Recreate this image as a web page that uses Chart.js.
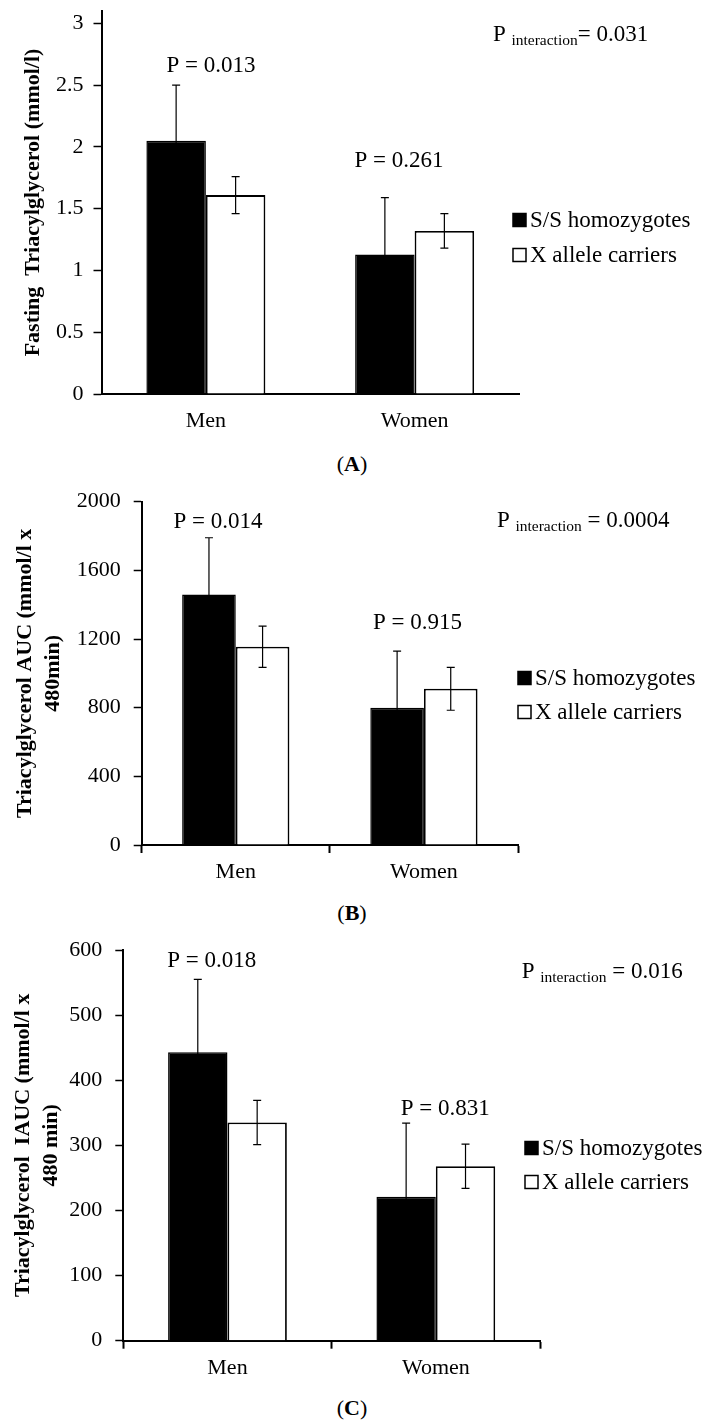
<!DOCTYPE html>
<html>
<head>
<meta charset="utf-8">
<script src="https://cdn.jsdelivr.net/npm/chart.js@4.4.0/dist/chart.umd.min.js"></script>
<style>
body { margin: 0; background: #fff; }
#page { position: relative; width: 704px; height: 1425px; background: #fff; overflow: hidden; }
canvas { position: absolute; left: 0; }
.tag { position: absolute; left: 0; width: 704px; text-align: center; font: 22px "Liberation Serif", "Times New Roman", serif; color: #000; }
</style>
</head>
<body>
<div id="page">
  <canvas id="chartA" width="704" height="440" style="top:0px"></canvas>
  <div class="tag" style="top:451px">(<b>A</b>)</div>
  <canvas id="chartB" width="704" height="440" style="top:460px"></canvas>
  <div class="tag" style="top:900px">(<b>B</b>)</div>
  <canvas id="chartC" width="704" height="460" style="top:930px"></canvas>
  <div class="tag" style="top:1395px">(<b>C</b>)</div>
</div>
<script>
const categories = ['Men', 'Women'];
const seriesNames = ['S/S homozygotes', 'X allele carriers'];

// (A) fasting triacylglycerol, mmol/l
const fastingSS = [2.05, 1.13];
const fastingSSErr = [0.45, 0.46];
const fastingX = [1.61, 1.32];
const fastingXErr = [0.15, 0.14];
const fastingTicks = [0, 0.5, 1, 1.5, 2, 2.5, 3];
const fastingP = ['P = 0.013', 'P = 0.261'];
const fastingInter = ['P', 'interaction', '= 0.031'];

// (B) AUC
const aucSS = [1460, 800];
const aucSSErr = [330, 330];
const aucX = [1155, 910];
const aucXErr = [120, 125];
const aucTicks = [0, 400, 800, 1200, 1600, 2000];
const aucP = ['P = 0.014', 'P = 0.915'];
const aucInter = ['P', 'interaction', ' = 0.0004'];

// (C) IAUC
const iaucSS = [443, 221];
const iaucSSErr = [112, 113];
const iaucX = [335, 268];
const iaucXErr = [34, 34];
const iaucTicks = [0, 100, 200, 300, 400, 500, 600];
const iaucP = ['P = 0.018', 'P = 0.831'];
const iaucInter = ['P', 'interaction', ' = 0.016'];

const SERIF = '"Liberation Serif", "Times New Roman", serif';

const extras = {
  id: 'extras',
  afterDatasetsDraw(chart, args, opts) {
    const ctx = chart.ctx;
    const xs = chart.scales.x, ys = chart.scales.y;
    ctx.save();

    // error bars
    ctx.strokeStyle = '#000';
    ctx.lineWidth = 1.2;
    opts.errors.forEach((errs, di) => {
      const vals = chart.data.datasets[di].data;
      chart.getDatasetMeta(di).data.forEach((bar, j) => {
        const top = ys.getPixelForValue(vals[j] + errs[j]);
        const bot = ys.getPixelForValue(vals[j] - errs[j]);
        ctx.beginPath();
        ctx.moveTo(bar.x, top); ctx.lineTo(bar.x, bot);
        ctx.moveTo(bar.x - 4, top); ctx.lineTo(bar.x + 4, top);
        ctx.moveTo(bar.x - 4, bot); ctx.lineTo(bar.x + 4, bot);
        ctx.stroke();
      });
    });

    // P values above each group
    ctx.fillStyle = '#000';
    ctx.font = '23px ' + SERIF;
    ctx.textAlign = 'center';
    ctx.textBaseline = 'alphabetic';
    opts.pLabels.forEach((txt, i) => {
      const at = opts.pAt[i];
      ctx.fillText(txt, xs.getPixelForValue(at[0]), ys.getPixelForValue(at[1]));
    });

    // P interaction with subscript
    ctx.textAlign = 'left';
    let px = xs.getPixelForValue(opts.interAt[0]);
    const py = ys.getPixelForValue(opts.interAt[1]);
    ctx.fillText(opts.inter[0] + ' ', px, py);
    px += ctx.measureText(opts.inter[0] + ' ').width;
    ctx.font = '15.5px ' + SERIF;
    ctx.fillText(opts.inter[1], px, py + 4);
    px += ctx.measureText(opts.inter[1]).width;
    ctx.font = '23px ' + SERIF;
    ctx.fillText(opts.inter[2], px, py);

    // legend
    const lg = opts.legend;
    ctx.textBaseline = 'middle';
    chart.data.datasets.forEach((ds, i) => {
      const cy = lg.y + i * lg.gap;
      ctx.fillStyle = ds.backgroundColor;
      ctx.fillRect(lg.x, cy - 6.5, 13, 13);
      ctx.strokeStyle = '#000';
      ctx.lineWidth = 1.5;
      ctx.strokeRect(lg.x, cy - 6.5, 13, 13);
      ctx.fillStyle = '#000';
      ctx.fillText(ds.label, lg.x + 17, cy + 1);
    });
    ctx.restore();
  }
};

function makePanel(id, cfg) {
  const el = document.getElementById(id);
  return new Chart(el, {
    type: 'bar',
    data: {
      labels: categories,
      datasets: [
        { label: seriesNames[0], data: cfg.ss, backgroundColor: '#000', borderColor: '#000', borderWidth: 1.5 },
        { label: seriesNames[1], data: cfg.xc, backgroundColor: '#fff', borderColor: '#000', borderWidth: 1.8 }
      ]
    },
    options: {
      responsive: false,
      animation: false,
      datasets: { bar: { categoryPercentage: 0.57, barPercentage: 1.0 } },
      layout: { padding: { left: 0, top: cfg.box.top, right: 704 - cfg.box.right, bottom: 0 } },
      plugins: {
        legend: { display: false },
        tooltip: { enabled: false },
        extras: {
          errors: [cfg.ssErr, cfg.xcErr],
          pLabels: cfg.pLabels, pAt: cfg.pAt,
          inter: cfg.inter, interAt: cfg.interAt,
          legend: cfg.legend
        }
      },
      scales: {
        x: {
          grid: { display: true, drawOnChartArea: false, offset: true, tickLength: 8, tickWidth: 2,
                  tickColor: cfg.xTicks ? '#000' : 'rgba(0,0,0,0)' },
          border: { color: '#000', width: 2 },
          ticks: { color: '#000', padding: 6, font: { family: SERIF, size: 22 } },
          afterFit: (s) => { s.height = el.height - cfg.box.bottom; s.paddingLeft = 0; s.paddingRight = 0; }
        },
        y: {
          min: 0, max: cfg.max,
          grid: { drawOnChartArea: false, tickLength: 8, tickWidth: 1.5, tickColor: '#000' },
          border: { color: '#000', width: 2 },
          ticks: { color: '#000', padding: cfg.tickPad, font: { family: SERIF, size: 22 }, callback: (v) => String(v) },
          afterBuildTicks: (s) => { s.ticks = cfg.ticks.map(v => ({ value: v })); },
          afterFit: (s) => { s.width = cfg.box.left; s.paddingTop = 0; s.paddingBottom = 0; },
          title: { display: true, text: cfg.title, color: '#000',
                   font: { family: SERIF, size: 22, weight: 'bold', lineHeight: 1.27 },
                   padding: { top: cfg.titlePad, bottom: 0 } }
        }
      }
    },
    plugins: [extras]
  });
}

makePanel('chartA', {
  ss: fastingSS, ssErr: fastingSSErr, xc: fastingX, xcErr: fastingXErr,
  ticks: fastingTicks, max: 3.1, xTicks: false,
  box: { left: 101.5, right: 519, top: 11, bottom: 394 },
  tickPad: 10, titlePad: 19,
  title: 'Fasting  Triacylglycerol (mmol/l)',
  pLabels: fastingP, pAt: [[0.024, 2.607], [0.925, 1.835]],
  inter: fastingInter, interAt: [1.375, 2.854],
  legend: { x: 513, y: 220, gap: 35 }
});

makePanel('chartB', {
  ss: aucSS, ssErr: aucSSErr, xc: aucX, xcErr: aucXErr,
  ticks: aucTicks, max: 2000, xTicks: true,
  box: { left: 141.7, right: 518, top: 41.7, bottom: 385 },
  tickPad: 13, titlePad: 11,
  title: ['Triacylglycerol AUC (mmol/l x', '480min)'],
  pLabels: aucP, pAt: [[-0.094, 1844], [0.966, 1258]],
  inter: aucInter, interAt: [1.388, 1853],
  legend: { x: 518, y: 218, gap: 34 }
});

makePanel('chartC', {
  ss: iaucSS, ssErr: iaucSSErr, xc: iaucX, xcErr: iaucXErr,
  ticks: iaucTicks, max: 600, xTicks: true,
  box: { left: 123.3, right: 540, top: 20, bottom: 410.7 },
  tickPad: 13, titlePad: 9,
  title: ['Triacylglycerol  IAUC (mmol/l x', '480 min)'],
  pLabels: iaucP, pAt: [[-0.076, 574.5], [1.045, 346.7]],
  inter: iaucInter, interAt: [1.412, 556.7],
  legend: { x: 525, y: 218, gap: 34 }
});
</script>
</body>
</html>
